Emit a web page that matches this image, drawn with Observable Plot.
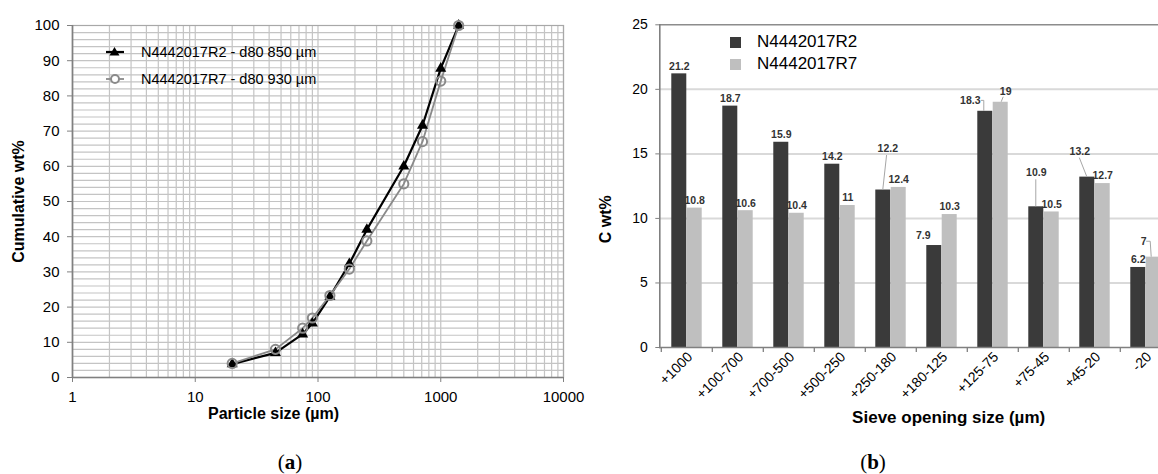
<!DOCTYPE html>
<html><head><meta charset="utf-8">
<script src="https://cdn.jsdelivr.net/npm/d3@7"></script>
<script src="https://cdn.jsdelivr.net/npm/@observablehq/plot@0.6"></script>
<style>
body{margin:0;background:#fff;font-family:"Liberation Sans",Arial,sans-serif;}
#wrap{position:relative;width:1158px;height:474px;overflow:hidden;background:#fff;}
.panel{position:absolute;top:0;height:474px;}
.cap{position:absolute;font-family:"Liberation Serif","DejaVu Serif",serif;font-size:21px;transform:translate(-50%,-50%);white-space:nowrap;z-index:3;}
.leg{position:absolute;display:flex;align-items:center;white-space:nowrap;color:#000;transform:translateY(-50%);z-index:3;}
</style></head><body><div id="wrap"></div>
<script>
// ---------- data: panel (a) ----------
const sizes = [20, 45, 75, 90, 125, 180, 250, 500, 710, 1000, 1400];
const cumR2 = [3.8, 7, 12.3, 15.4, 23, 32.3, 42, 60, 71.6, 87.8, 100];
const cumR7 = [4, 8, 14, 16.9, 23.3, 30.8, 38.8, 55, 67, 84.2, 100];
const seriesA = ["N4442017R2 - d80 850 µm", "N4442017R7 - d80 930 µm"];
const xTicksA = [1, 10, 100, 1000, 10000];
const yTicksA = [0, 10, 20, 30, 40, 50, 60, 70, 80, 90, 100];
const titleXA = "Particle size (µm)";
const titleYA = "Cumulative wt%";

// ---------- data: panel (b) ----------
const fractions = ["+1000", "+100-700", "+700-500", "+500-250", "+250-180", "+180-125", "+125-75", "+75-45", "+45-20", "-20"];
const cR2 = [21.2, 18.7, 15.9, 14.2, 12.2, 7.9, 18.3, 10.9, 13.2, 6.2];
const cR7 = [10.8, 10.6, 10.4, 11, 12.4, 10.3, 19, 10.5, 12.7, 7];
const seriesB = ["N4442017R2", "N4442017R7"];
const yTicksB = [0, 5, 10, 15, 20, 25];
const titleXB = "Sieve opening size (µm)";
const titleYB = "C wt%";

// ---------- style config ----------
const FONT = '"Liberation Sans", Arial, sans-serif';
const GRID = "#c4c4c4", AXIS = "#808080";
const DARK = "#3a3a3a", LIGHT = "#bfbfbf";
const R7GRAY = "#8a8a8a";
// label nudges (pixels, relative to bar top centre) and leader lines
const nudges = [
  {f: "+250-180", s: 0, dx: 4.5, dy: -41, leader: [[0, 0], [3.8, -34.5]]},
  {f: "+180-125", s: 0, dx: -11, dy: -9.5},
  {f: "+125-75", s: 0, dx: -15, dy: -10.4, leader: [[-4, -10.4], [-1, -10.4], [-1, 0]]},
  {f: "+125-75", s: 1, dx: 5, dy: -10.5, leader: [[1, 0], [3, -5]]},
  {f: "+75-45", s: 0, dx: 0, dy: -34, leader: [[0, 0], [0, -27]]},
  {f: "+45-20", s: 0, dx: -7.5, dy: -25.5, leader: [[0, 0], [-7.5, -19]]},
  {f: "-20", s: 1, dx: -10, dy: -15.4, leader: [[-7, -15.4], [-3, -15.4], [-2, 0]]}
];

const wrap = document.getElementById("wrap");

// ================= Panel (a) =================
const dataA = sizes.flatMap((s, i) => [
  {size: s, v: cumR2[i], s: seriesA[0]},
  {size: s, v: cumR7[i], s: seriesA[1]}
]);
const A2 = dataA.filter(d => d.s === seriesA[0]);
const A7 = dataA.filter(d => d.s === seriesA[1]);
const gridX = [];
for (let e = 0; e < 4; e++) for (let m = 1; m < 10; m++) gridX.push(m * 10 ** e);
gridX.push(10000);
const gridY = d3.range(0, 101, 2);

const plotA = Plot.plot({
  width: 580, height: 440,
  marginLeft: 72, marginRight: 17, marginTop: 25, marginBottom: 63,
  style: {fontFamily: FONT, fontSize: "15px", color: "#000", background: "#fff", overflow: "visible"},
  x: {type: "log", domain: [1, 10000]},
  y: {domain: [0, 100]},
  marks: [
    Plot.ruleX(gridX, {stroke: GRID, strokeWidth: 1.2}),
    Plot.ruleY(gridY, {stroke: GRID, strokeWidth: 1.2}),
    Plot.frame({stroke: "#a8a8a8", strokeWidth: 1.2}),
    Plot.ruleX([1], {stroke: AXIS, strokeWidth: 1.6}),
    Plot.ruleY([0], {stroke: AXIS, strokeWidth: 1.6}),
    Plot.axisX({ticks: xTicksA, tickFormat: d => String(d), tickSize: 5, tickPadding: 9, stroke: AXIS, label: null}),
    Plot.axisY({ticks: yTicksA, tickSize: 5, tickPadding: 8, stroke: AXIS, label: null}),
    Plot.line(A2, {x: "size", y: "v", stroke: "#000", strokeWidth: 2.2}),
    Plot.line(A7, {x: "size", y: "v", stroke: R7GRAY, strokeWidth: 1.8}),
    Plot.dot(A2, {x: "size", y: "v", symbol: "triangle", r: 4.1, fill: "#000"}),
    Plot.dot(A7, {x: "size", y: "v", r: 4.6, stroke: R7GRAY, strokeWidth: 2, fill: "none"}),
    Plot.text([titleYA], {frameAnchor: "left", dx: -54, rotate: -90, textAnchor: "middle", lineAnchor: "middle", fontWeight: "bold", fontSize: 16}),
    Plot.text([titleXA], {frameAnchor: "bottom", dx: -44.5, dy: 36, textAnchor: "middle", lineAnchor: "middle", fontWeight: "bold", fontSize: 16})
  ]
});
const pa = document.createElement("div");
pa.className = "panel"; pa.style.left = "0px"; pa.style.width = "580px"; pa.style.zIndex = "2";
pa.appendChild(plotA);
wrap.appendChild(pa);

// legend (a)
function legA(y, swatch, text) {
  const d = document.createElement("div");
  d.className = "leg";
  d.style.left = "105px"; d.style.top = y + "px"; d.style.fontSize = "14.5px";
  d.innerHTML = `<svg width="20" height="14" style="margin-right:16px">${swatch}</svg><span>${text}</span>`;
  wrap.appendChild(d);
}
legA(52.3, `<line x1="1" y1="7" x2="19" y2="7" stroke="#000" stroke-width="2.2"/><polygon points="9.5,2 14.5,10.5 4.5,10.5" fill="#000"/>`, seriesA[0]);
legA(79, `<line x1="1" y1="7" x2="19" y2="7" stroke="${R7GRAY}" stroke-width="1.8"/><circle cx="10" cy="7" r="4" fill="#fff" stroke="${R7GRAY}" stroke-width="2"/>`, seriesA[1]);

// ================= Panel (b) =================
const dataB = fractions.flatMap((f, i) => [
  {f, v: cR2[i], s: 0},
  {f, v: cR7[i], s: 1}
]);
const HALF = 7.71;
const isNudged = d => nudges.some(n => n.f === d.f && n.s === d.s);
const labelStyle = {x: "f", y: "v", text: d => String(d.v), fontSize: 10.5, fill: "#333", fontWeight: 600, lineAnchor: "middle", textAnchor: "middle"};

const labelMarks = [0, 1].map(s =>
  Plot.text(dataB.filter(d => d.s === s && !isNudged(d)), {...labelStyle, dx: s === 0 ? -HALF : HALF, dy: -7.5})
).concat(nudges.map(n =>
  Plot.text(dataB.filter(d => d.f === n.f && d.s === n.s), {...labelStyle, dx: (n.s === 0 ? -HALF : HALF) + n.dx, dy: n.dy})
));

function leaderMark(index, scales) {
  const ns = "http://www.w3.org/2000/svg";
  const g = document.createElementNS(ns, "g");
  const x = scales.x, y = scales.y;
  const bw = x.bandwidth ? x.bandwidth() : 0;
  for (const n of nudges) {
    if (!n.leader) continue;
    const d = dataB.find(e => e.f === n.f && e.s === n.s);
    const x0 = x(d.f) + bw / 2 + (n.s === 0 ? -HALF : HALF);
    const y0 = y(d.v);
    const p = document.createElementNS(ns, "path");
    p.setAttribute("d", "M" + n.leader.map(([dx, dy]) => `${x0 + dx},${y0 + dy}`).join("L"));
    p.setAttribute("fill", "none");
    p.setAttribute("stroke", "#a6a6a6");
    p.setAttribute("stroke-width", "1");
    g.appendChild(p);
  }
  return g;
}

const plotB = Plot.plot({
  width: 578, height: 440,
  marginLeft: 79.3, marginRight: 0, marginTop: 24.3, marginBottom: 93,
  style: {fontFamily: FONT, fontSize: "14px", color: "#000", background: "#fff", overflow: "hidden"},
  x: {type: "band", domain: fractions, range: [79.3, 593.3], paddingInner: 0.7, paddingOuter: 0.35},
  y: {domain: [0, 25]},
  marks: [
    Plot.ruleY([5, 10, 15, 20], {stroke: "#d9d9d9", strokeWidth: 2}),
    Plot.ruleY([25], {stroke: "#8c8c8c", strokeWidth: 1.6}),
    Plot.barY(dataB.filter(d => d.s === 0), {x: "f", y: "v", fill: DARK, dx: -HALF}),
    Plot.barY(dataB.filter(d => d.s === 1), {x: "f", y: "v", fill: LIGHT, dx: HALF}),
    Plot.frame({anchor: "left", stroke: AXIS, strokeWidth: 1.6}),
    Plot.ruleY([0], {stroke: AXIS, strokeWidth: 1.6}),
    Plot.ruleX(fractions, {x: d => d, y1: 0, y2: 0, insetTop: 5, dx: -25.7, stroke: AXIS, strokeWidth: 1.3}),
    Plot.axisX({tickSize: 0, tickRotate: -45, tickPadding: 7, dx: 3, fontSize: 14, label: null}),
    Plot.axisY({ticks: yTicksB, tickSize: 4, tickPadding: 8, stroke: AXIS, label: null}),
    leaderMark,
    ...labelMarks,
    Plot.text([titleYB], {frameAnchor: "left", dx: -54.3, dy: 33, rotate: -90, textAnchor: "middle", lineAnchor: "middle", fontWeight: "bold", fontSize: 16}),
    Plot.text([titleXB], {frameAnchor: "bottom", dx: 328.5 - 289, dy: 70.3, textAnchor: "middle", lineAnchor: "middle", fontWeight: "bold", fontSize: 17})
  ]
});
const pb = document.createElement("div");
pb.className = "panel"; pb.style.left = "580px"; pb.style.width = "578px"; pb.style.overflow = "hidden"; pb.style.zIndex = "1";
pb.appendChild(plotB);
wrap.appendChild(pb);

// legend (b)
function legB(y, color, text) {
  const d = document.createElement("div");
  d.className = "leg";
  d.style.left = "730px"; d.style.top = y + "px"; d.style.fontSize = "17px";
  d.innerHTML = `<span style="display:inline-block;width:11px;height:11px;background:${color};margin-right:16px"></span><span>${text}</span>`;
  wrap.appendChild(d);
}
legB(42, DARK, seriesB[0]);
legB(64.3, LIGHT, seriesB[1]);

// captions
function cap(x, letter) {
  const d = document.createElement("div");
  d.className = "cap";
  d.style.left = x + "px"; d.style.top = "462px";
  d.innerHTML = `(<b>${letter}</b>)`;
  wrap.appendChild(d);
}
cap(290, "a");
cap(873, "b");
</script></body></html>
